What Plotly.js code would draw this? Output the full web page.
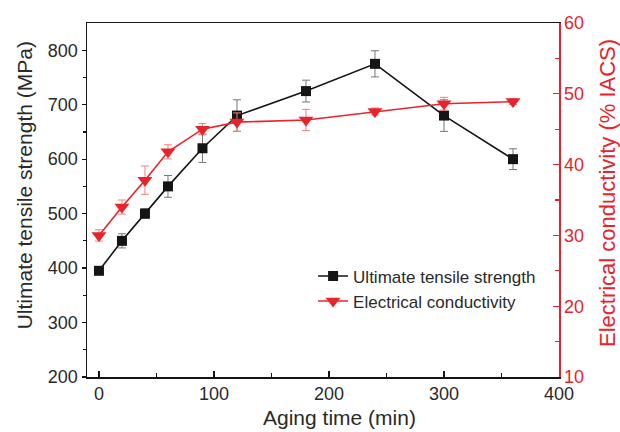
<!DOCTYPE html>
<html>
<head>
<meta charset="utf-8">
<script src="https://cdn.plot.ly/plotly-3.0.1.min.js"></script>
<style>html,body{margin:0;padding:0;background:#fff;}#chart{width:620px;height:432px;}</style>
</head>
<body>
<div id="chart"></div>
<script>
const agingTime = [0, 20, 40, 60, 90, 120, 180, 240, 300, 360];
const utsValues = [395, 450, 500, 550, 620, 680, 725, 775, 680, 600];
const utsErrors = [6, 13, 9, 20, 26, 29, 20, 24, 29, 19];
const ecValues = [30, 34, 37.8, 41.8, 45, 46, 46.3, 47.5, 48.6, 48.9];
const ecErrors = [0.8, 1, 2, 1, 0.8, 1.3, 1.5, 0.5, 0.9, 0.4];
const xTicks = [0, 100, 200, 300, 400];
const yTicks = [200, 300, 400, 500, 600, 700, 800];
const y2Ticks = [10, 20, 30, 40, 50, 60];
const xTitle = "Aging time (min)";
const yTitle = "Ultimate tensile strength (MPa)";
const y2Title = "Electrical conductivity (% IACS)";

const FONT = "Liberation Sans, Arial, sans-serif";
const RED = "#e8232b";
const BLACK = "#151515";
const TEXT = "#2a2a2a";

const traces = [
  {
    x: agingTime, y: utsValues, name: "Ultimate tensile strength",
    type: "scatter", mode: "lines+markers",
    line: {color: BLACK, width: 1.6},
    marker: {symbol: "square", size: 10, color: BLACK},
    error_y: {type: "data", array: utsErrors, visible: true, color: "#777", thickness: 1, width: 4},
    yaxis: "y"
  },
  {
    x: agingTime, y: ecValues, name: "Electrical conductivity",
    type: "scatter", mode: "lines+markers",
    line: {color: RED, width: 1.6},
    marker: {symbol: "triangle-down", size: 13, color: RED},
    error_y: {type: "data", array: ecErrors, visible: true, color: "#f08080", thickness: 1, width: 4},
    yaxis: "y2"
  }
];

const layout = {
  width: 620, height: 432,
  margin: {l: 87, r: 61, t: 23, b: 55},
  paper_bgcolor: "#fff", plot_bgcolor: "#fff",
  font: {family: FONT, size: 15, color: TEXT},
  showlegend: true,
  legend: {x: 0.479, y: 0.335, xanchor: "left", yanchor: "top", bgcolor: "rgba(0,0,0,0)",
           font: {family: FONT, size: 17, color: TEXT}, tracegroupgap: 0},
  xaxis: {
    range: [-10.4, 400], tickvals: xTicks, ticktext: xTicks.map(String),
    showline: true, linecolor: BLACK, linewidth: 1.5, mirror: true,
    ticks: "inside", ticklen: 6, tickcolor: BLACK, tickwidth: 1.2,
    minor: {tickvals: [50, 150, 250, 350], ticklen: 4, tickcolor: BLACK, ticks: "inside"},
    showgrid: false, zeroline: false,
    tickfont: {family: FONT, size: 18, color: TEXT}
  },
  yaxis: {
    range: [200, 850], tickvals: yTicks, ticktext: yTicks.map(String),
    showline: true, linecolor: BLACK, linewidth: 1.5,
    ticks: "outside", ticklen: 4, tickcolor: BLACK, tickwidth: 1.2,
    minor: {tickvals: [250, 350, 450, 550, 650, 750], ticklen: 3, tickcolor: BLACK, ticks: "outside"},
    showgrid: false, zeroline: false,
    tickfont: {family: FONT, size: 18, color: TEXT}
  },
  yaxis2: {
    overlaying: "y", side: "right", anchor: "x",
    range: [10, 60], tickvals: y2Ticks, ticktext: y2Ticks.map(String),
    showline: true, linecolor: RED, linewidth: 1.5,
    ticks: "inside", ticklen: 6, tickcolor: RED, tickwidth: 1.2,
    minor: {tickvals: [15, 25, 35, 45, 55], ticklen: 4, tickcolor: RED, ticks: "inside"},
    showgrid: false, zeroline: false,
    tickfont: {family: FONT, size: 18, color: RED}
  },
  annotations: [
    {text: xTitle, xref: "paper", yref: "paper", x: 0.536, y: -0.113, xanchor: "center", yanchor: "middle",
     showarrow: false, font: {family: FONT, size: 21, color: TEXT}},
    {text: yTitle, xref: "paper", yref: "paper", x: -0.133, y: 0.542, xanchor: "center", yanchor: "middle",
     textangle: -90, showarrow: false, font: {family: FONT, size: 21, color: TEXT}},
    {text: y2Title, xref: "paper", yref: "paper", x: 1.104, y: 0.52, xanchor: "center", yanchor: "middle",
     textangle: -90, showarrow: false, font: {family: FONT, size: 22, color: RED}}
  ]
};

Plotly.newPlot("chart", traces, layout, {displayModeBar: false, staticPlot: true});
</script>
</body>
</html>
